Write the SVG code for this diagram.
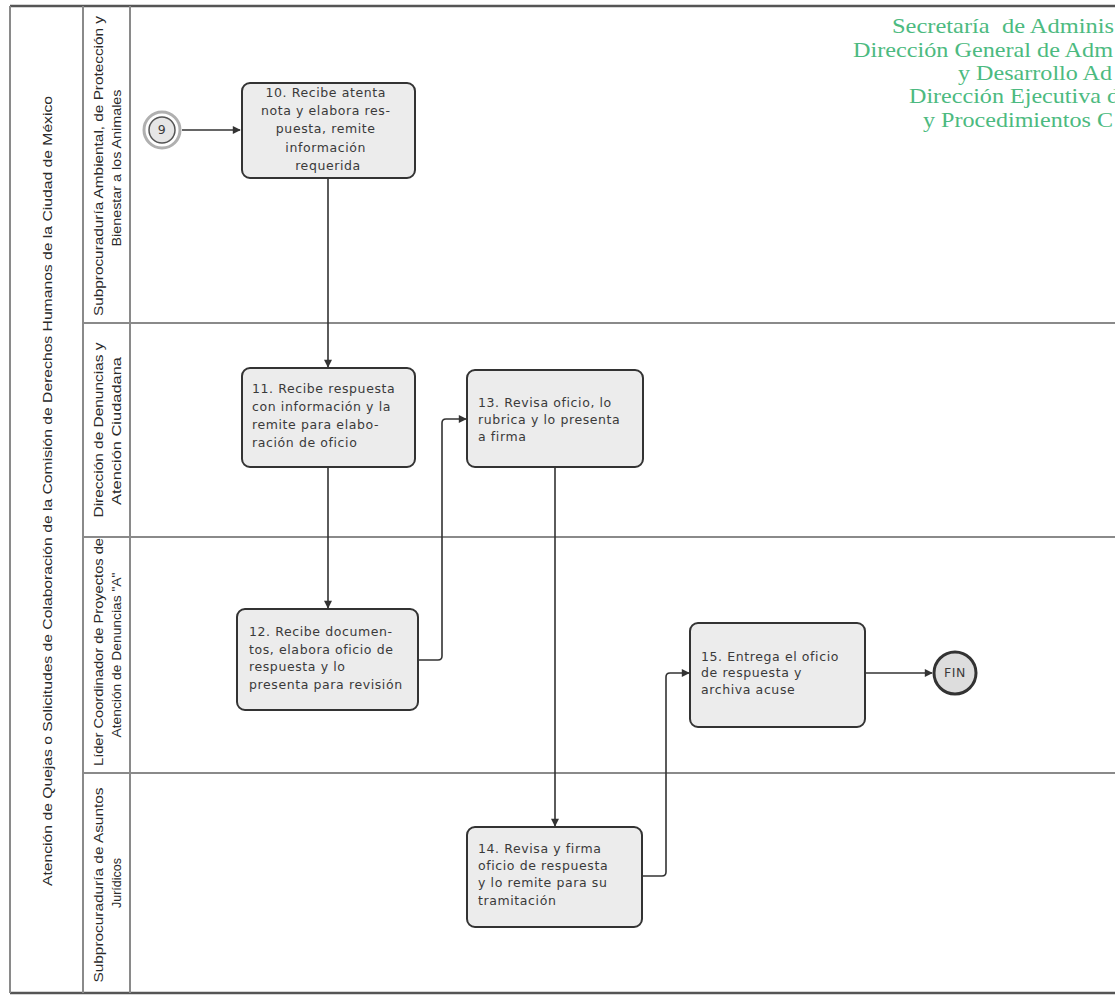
<svg xmlns="http://www.w3.org/2000/svg" width="1115" height="997" viewBox="0 0 1115 997">
  <style>
    .lane { stroke: #8a8a8a; stroke-width: 2; }
    .box { fill: #ececec; stroke: #333; stroke-width: 2; }
    .txt { font-family: "DejaVu Sans", "Liberation Sans", sans-serif; font-size: 12.5px; letter-spacing: 0.6px; fill: #3a3a3a; }
    .lbl { font-family: "Liberation Sans Narrow", "Liberation Sans", sans-serif; font-size: 12.5px; fill: #2a2a2a; text-anchor: middle; }
    .hdr { font-family: "Liberation Serif", "Times New Roman", serif; font-size: 21px; fill: #4cba80; }
    .conn { fill: none; stroke: #333; stroke-width: 1.6; stroke-linejoin: round; }
  </style>
  <defs>
    <marker id="arrow" viewBox="0 0 10 10" refX="9" refY="5" markerWidth="9" markerHeight="8" orient="auto" markerUnits="userSpaceOnUse">
      <path d="M0,0 L10,5 L0,10 z" fill="#333"/>
    </marker>
  </defs>

  <rect width="1115" height="997" fill="#ffffff"/>

  <!-- pool frame and lanes -->
  <g id="pool">
    <line x1="10" y1="6" x2="1115" y2="6" stroke="#555" stroke-width="2.5"/>
    <line x1="10" y1="993" x2="1115" y2="993" stroke="#555" stroke-width="2.5"/>
    <line x1="10" y1="6" x2="10" y2="993" class="lane"/>
    <line x1="83" y1="6" x2="83" y2="993" class="lane"/>
    <line x1="130" y1="6" x2="130" y2="993" class="lane"/>
    <line x1="83" y1="323" x2="1115" y2="323" class="lane"/>
    <line x1="83" y1="537" x2="1115" y2="537" class="lane"/>
    <line x1="83" y1="773" x2="1115" y2="773" class="lane"/>
  </g>

  <!-- pool title -->
  <g id="title">
    <text class="lbl" transform="translate(52,491) rotate(-90)" textLength="790" lengthAdjust="spacingAndGlyphs">Atención de Quejas o Solicitudes de Colaboración de la Comisión de Derechos Humanos de la Ciudad de México</text>
  </g>

  <!-- lane labels -->
  <g id="lane-1-label">
    <text class="lbl" transform="translate(103,166) rotate(-90)" textLength="300" lengthAdjust="spacingAndGlyphs">Subprocuraduría Ambiental, de Protección y</text>
    <text class="lbl" transform="translate(121,168) rotate(-90)" textLength="157" lengthAdjust="spacingAndGlyphs">Bienestar a los Animales</text>
  </g>
  <g id="lane-2-label">
    <text class="lbl" transform="translate(103,430) rotate(-90)" textLength="175" lengthAdjust="spacingAndGlyphs">Dirección de Denuncias y</text>
    <text class="lbl" transform="translate(121,431) rotate(-90)" textLength="148" lengthAdjust="spacingAndGlyphs">Atención Ciudadana</text>
  </g>
  <g id="lane-3-label">
    <text class="lbl" transform="translate(103,652) rotate(-90)" textLength="228" lengthAdjust="spacingAndGlyphs">Líder Coordinador de Proyectos de</text>
    <text class="lbl" transform="translate(121,655) rotate(-90)" textLength="165" lengthAdjust="spacingAndGlyphs">Atención de Denuncias "A"</text>
  </g>
  <g id="lane-4-label">
    <text class="lbl" transform="translate(103,885) rotate(-90)" textLength="195" lengthAdjust="spacingAndGlyphs">Subprocuraduría de Asuntos</text>
    <text class="lbl" transform="translate(121,883) rotate(-90)" textLength="50" lengthAdjust="spacingAndGlyphs">Jurídicos</text>
  </g>

  <!-- letterhead, running off the right edge of the sheet -->
  <g id="letterhead">
    <text class="hdr" xml:space="preserve"><tspan x="892" y="33" textLength="222" lengthAdjust="spacingAndGlyphs">Secretaría  de Adminis</tspan><tspan x="853" y="57" textLength="260" lengthAdjust="spacingAndGlyphs">Dirección General de Adm</tspan><tspan x="958" y="80" textLength="154" lengthAdjust="spacingAndGlyphs">y Desarrollo Ad</tspan><tspan x="909" y="103" textLength="210" lengthAdjust="spacingAndGlyphs">Dirección Ejecutiva d</tspan><tspan x="923" y="127" textLength="190" lengthAdjust="spacingAndGlyphs">y Procedimientos C</tspan></text>
  </g>

  <!-- connectors -->
  <g id="connectors">
    <path class="conn" d="M182,130 L240,130" marker-end="url(#arrow)"/>
    <path class="conn" d="M328,178 L328,367" marker-end="url(#arrow)"/>
    <path class="conn" d="M328,467 L328,608" marker-end="url(#arrow)"/>
    <path class="conn" d="M418,660 L438,660 Q442,660 442,656 L442,423 Q442,419 446,419 L466,419" marker-end="url(#arrow)"/>
    <path class="conn" d="M555,467 L555,826" marker-end="url(#arrow)"/>
    <path class="conn" d="M642,876 L662,876 Q666,876 666,872 L666,677 Q666,673 670,673 L689,673" marker-end="url(#arrow)"/>
    <path class="conn" d="M865,673 L932,673" marker-end="url(#arrow)"/>
  </g>

  <!-- start: link event 9 -->
  <g id="start-9">
    <circle cx="162" cy="130" r="18" fill="none" stroke="#b0b0b0" stroke-width="3"/>
    <circle cx="162" cy="130" r="13" fill="#e6e6e6" stroke="#555" stroke-width="1.5"/>
    <text class="txt" x="162" y="134" text-anchor="middle" font-size="11" letter-spacing="0">9</text>
  </g>

  <g id="task-10">
    <rect class="box" x="242" y="83" width="173" height="95" rx="8"/>
    <text class="txt" text-anchor="middle">
      <tspan x="328" y="97">10. Recibe atenta</tspan>
      <tspan x="328" y="115">nota y elabora  res-</tspan>
      <tspan x="328" y="133">puesta,  remite</tspan>
      <tspan x="328" y="152">información</tspan>
      <tspan x="328" y="170">requerida</tspan>
    </text>
  </g>

  <g id="task-11">
    <rect class="box" x="242" y="368" width="173" height="99" rx="8"/>
    <text class="txt">
      <tspan x="252" y="393">11. Recibe respuesta</tspan>
      <tspan x="252" y="411">con información y  la</tspan>
      <tspan x="252" y="429">remite para elabo-</tspan>
      <tspan x="252" y="447">ración de oficio</tspan>
    </text>
  </g>

  <g id="task-13">
    <rect class="box" x="467" y="370" width="176" height="97" rx="8"/>
    <text class="txt">
      <tspan x="478" y="407">13. Revisa  oficio,  lo</tspan>
      <tspan x="478" y="424">rubrica y lo presenta</tspan>
      <tspan x="478" y="441">a firma</tspan>
    </text>
  </g>

  <g id="task-12">
    <rect class="box" x="237" y="609" width="181" height="101" rx="8"/>
    <text class="txt">
      <tspan x="249" y="636">12. Recibe  documen-</tspan>
      <tspan x="249" y="654">tos,  elabora oficio de</tspan>
      <tspan x="249" y="671">respuesta  y  lo</tspan>
      <tspan x="249" y="689">presenta para revisión</tspan>
    </text>
  </g>

  <g id="task-15">
    <rect class="box" x="690" y="623" width="175" height="104" rx="8"/>
    <text class="txt">
      <tspan x="701" y="661">15. Entrega el oficio</tspan>
      <tspan x="701" y="677">de respuesta  y</tspan>
      <tspan x="701" y="694">archiva acuse</tspan>
    </text>
  </g>

  <g id="end-fin">
    <circle cx="955" cy="673" r="21" fill="#dddddd" stroke="#333" stroke-width="3"/>
    <text class="txt" x="955" y="677" text-anchor="middle" font-size="11" letter-spacing="0" fill="#666">FIN</text>
  </g>

  <g id="task-14">
    <rect class="box" x="467" y="827" width="175" height="100" rx="8"/>
    <text class="txt">
      <tspan x="478" y="853">14. Revisa  y firma</tspan>
      <tspan x="478" y="870">oficio de respuesta</tspan>
      <tspan x="478" y="887">y lo remite para su</tspan>
      <tspan x="478" y="905">tramitación</tspan>
    </text>
  </g>
</svg>
